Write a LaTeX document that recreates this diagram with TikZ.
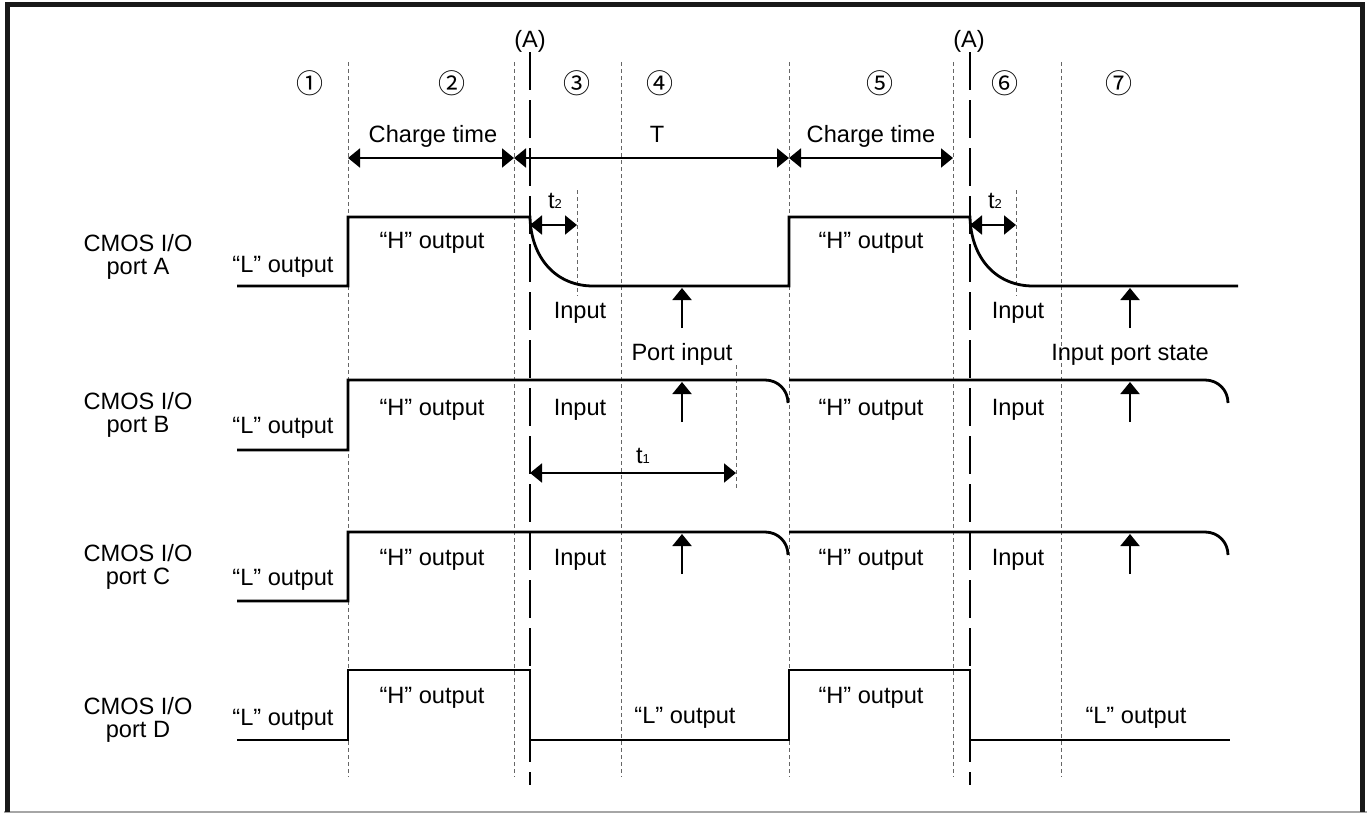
\documentclass[tikz,border=0pt]{standalone}
\usepackage{fontspec}
\setmainfont{Liberation Sans}
\newfontfamily\circfont{Noto Sans CJK SC}
\usetikzlibrary{arrows.meta}

\begin{document}
\begin{tikzpicture}[x=0.5pt, y=-0.5pt, >={Triangle[length=6pt, width=9.5pt]}]
        % Styles
        \tikzset{guide/.style={draw=black!60, line width=0.5pt, dash pattern=on 2pt off 1.5pt}}
        \tikzset{marker/.style={draw=black, line width=1.1pt, dash pattern=on 19pt off 5pt}}
        \tikzset{wave/.style={draw=black, line width=1.4pt, line join=miter}}
        \tikzset{dim/.style={<->, line width=1pt}}
        \tikzset{probe/.style={->, line width=1pt}}
        \tikzset{lbl/.style={font=\fontsize{11.8}{11}\selectfont, inner sep=0pt, anchor=base}}
        \tikzset{portname/.style={font=\fontsize{11.8}{11.4}\selectfont, inner sep=0pt, align=center}}
        \tikzset{phase/.style={font=\circfont\fontsize{13.5}{13.5}\selectfont, inner sep=0pt}}
        \newcommand{\sub}[1]{{\fontsize{6.5}{6.5}\selectfont #1}}

        % Frame
        \useasboundingbox (0,0) rectangle (1371,814);
        \draw[black!35, line width=0.6pt] (4,812) -- (1367,812);
        \draw[black!90, line width=2.3pt] (7.5,812) -- (7.5,4.5) -- (1362.5,4.5) -- (1362.5,812);

        % Guides
        \foreach \x in {348,514,621,789,953,1061}
            \draw[guide] (\x,62) -- (\x,777);
        \foreach \x in {577,1016}
            \draw[guide] (\x,190) -- (\x,296);
        \draw[guide] (736,365) -- (736,490);
        \foreach \x in {530,970}
            \draw[marker] (\x,52) -- (\x,785);

        % Phases
        \foreach \x/\n in {310/①, 452/②, 577/③, 660/④, 880/⑤, 1005/⑥, 1119/⑦}
            \node[phase] (ph-\x) at (\x,83) {\n};
        \node[lbl] (markA1) at (530,47) {(A)};
        \node[lbl] (markA2) at (969,47) {(A)};

        % Dimensions
        \coordinate (d1) at (348,158);
        \coordinate (d2) at (514,158);
        \coordinate (d3) at (789,158);
        \coordinate (d4) at (953,158);
        \draw[dim] (d1) -- (d2);
        \draw[dim] (d2) -- (d3);
        \draw[dim] (d3) -- (d4);
        \node[lbl] (charge1) at (433,142) {Charge time};
        \node[lbl] (period) at (657,142) {T};
        \node[lbl] (charge2) at (871,142) {Charge time};

        \coordinate (ta1) at (530,225);
        \coordinate (ta2) at (577,225);
        \coordinate (tb1) at (970,225);
        \coordinate (tb2) at (1016,225);
        \coordinate (tc1) at (530,473);
        \coordinate (tc2) at (736,473);
        \draw[dim] (ta1) -- (ta2);
        \draw[dim] (tb1) -- (tb2);
        \draw[dim] (tc1) -- (tc2);
        \node[lbl] (tdelay1) at (555,208) {t\sub{2}};
        \node[lbl] (tdelay2) at (995,208) {t\sub{2}};
        \node[lbl] (thold) at (643,463) {t\sub{1}};

        % Waveforms
        \draw[wave] (237,286) -- (348,286) -- (348,217) -- (530,217)
            .. controls (531,258) and (556,286) .. (593,286) -- (789,286) -- (789,217) -- (970,217)
            .. controls (971,258) and (996,286) .. (1033,286) -- (1238,286);
        \draw[wave] (237,450) -- (348,450) -- (348,380) -- (765,380) .. controls (778,380) and (788,390) .. (788,403);
        \draw[wave] (789,380) -- (1205,380) .. controls (1218,380) and (1228,390) .. (1228,403);
        \draw[wave] (237,601) -- (348,601) -- (348,532) -- (765,532) .. controls (778,532) and (788,542) .. (788,555);
        \draw[wave] (789,532) -- (1205,532) .. controls (1218,532) and (1228,542) .. (1228,555);
        \draw[wave] (237,740) -- (348,740) -- (348,670) -- (530,670) -- (530,740) -- (789,740)
            -- (789,670) -- (970,670) -- (970,740) -- (1230,740);

        % Sampling points
        \foreach \x in {682,1130}
            \foreach \y in {288,382,534} {
                \coordinate (tip-\x-\y) at (\x,\y);
                \draw[probe] (\x,\y+40) -- (tip-\x-\y);
            }

        % Ports
        \node[portname] (portA) at (138,257) {CMOS I/O\\port A};
        \node[portname] (portB) at (138,415) {CMOS I/O\\port B};
        \node[portname] (portC) at (138,567) {CMOS I/O\\port C};
        \node[portname] (portD) at (138,720) {CMOS I/O\\port D};

        % Port A
        \node[lbl] (lowA) at (283,272) {“L” output};
        \node[lbl] (highA1) at (432,248) {“H” output};
        \node[lbl] (inA1) at (580,318) {Input};
        \node[lbl] (sampleA1) at (682,360) {Port input};
        \node[lbl] (highA2) at (871,248) {“H” output};
        \node[lbl] (inA2) at (1018,318) {Input};
        \node[lbl] (sampleA2) at (1130,360) {Input port state};

        % Port B
        \node[lbl] (lowB) at (283,433) {“L” output};
        \node[lbl] (highB1) at (432,415) {“H” output};
        \node[lbl] (inB1) at (580,415) {Input};
        \node[lbl] (highB2) at (871,415) {“H” output};
        \node[lbl] (inB2) at (1018,415) {Input};

        % Port C
        \node[lbl] (lowC) at (283,585) {“L” output};
        \node[lbl] (highC1) at (432,565) {“H” output};
        \node[lbl] (inC1) at (580,565) {Input};
        \node[lbl] (highC2) at (871,565) {“H” output};
        \node[lbl] (inC2) at (1018,565) {Input};

        % Port D
        \node[lbl] (lowD1) at (283,725) {“L” output};
        \node[lbl] (highD1) at (432,703) {“H” output};
        \node[lbl] (lowD2) at (685,723) {“L” output};
        \node[lbl] (highD2) at (871,703) {“H” output};
        \node[lbl] (lowD3) at (1136,723) {“L” output};
    \end{tikzpicture}
\end{document}
